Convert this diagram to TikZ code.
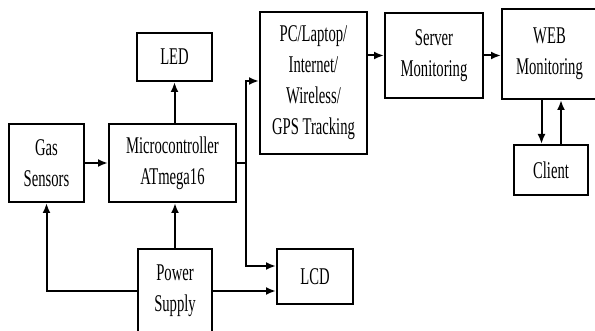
\documentclass[tikz,border=0pt]{standalone}
\usepackage{fontspec}
\setmainfont{Liberation Serif}[FakeStretch=0.61]
\usepackage{tikz}
\usetikzlibrary{arrows.meta}
\tikzstyle{block} = [draw=black, line width=2pt, rectangle, align=center, inner sep=0pt, font=\fontsize{24}{31}\selectfont]
\tikzstyle{arrow} = [line width=2pt,-{Latex[length=10pt,width=8pt]}]
\tikzstyle{wire} = [line width=2pt]

\begin{document}
\begin{tikzpicture}[x=1pt, y=-1pt]
		\useasboundingbox (0, 0) rectangle (595, 331);
		\node[block, minimum width=75pt, minimum height=78pt] (gas) at (46.5, 163) {Gas\\Sensors};
		\node[block, minimum width=127pt, minimum height=78pt] (mcu) at (172.5, 163) {Microcontroller\\ATmega16};
		\node[block, minimum width=75pt, minimum height=48pt] (led) at (174.5, 57) {LED};
		\node[block, minimum width=74pt, minimum height=84pt] (power) at (175, 291) {Power\\Supply};
		\node[block, minimum width=76pt, minimum height=55pt] (lcd) at (315, 276.5) {LCD};
		\node[block, minimum width=107pt, minimum height=142pt] (pc) at (313.5, 83) {PC/Laptop/\\Internet/\\Wireless/\\GPS Tracking};
		\node[block, minimum width=98pt, minimum height=85pt] (server) at (434, 55.5) {Server\\Monitoring};
		\node[block, minimum width=95pt, minimum height=90pt] (web) at (549.5, 54) {WEB\\Monitoring};
		\node[block, minimum width=74pt, minimum height=50pt] (client) at (551, 170) {Client};
		\coordinate (split) at (246, 163);
		% connectors
		\draw[arrow] (gas.east) -- (mcu.west);
		\draw[arrow] (led.south |- mcu.north) -- (led.south);
		\draw[arrow] (power.north) -- (power.north |- mcu.south);
		\draw[arrow] (power.west) -| (gas.south);
		\draw[arrow] (power.east) -- (power.east -| lcd.west);
		\draw[wire] (mcu.east) -- (split);
		\draw[arrow] (split) |- ([yshift=2pt]pc.west);
		\draw[arrow] (split) |- ([yshift=10.5pt]lcd.west);
		\draw[arrow] (pc.east |- server.west) -- (server.west);
		\draw[arrow] (server.east) -- (server.east -| web.west);
		\draw[arrow] ([xshift=-9.5pt]client.north |- web.south) -- ([xshift=-9.5pt]client.north);
		\draw[arrow] ([xshift=10pt]client.north) -- ([xshift=10pt]client.north |- web.south);
		\end{tikzpicture}
\end{document}
